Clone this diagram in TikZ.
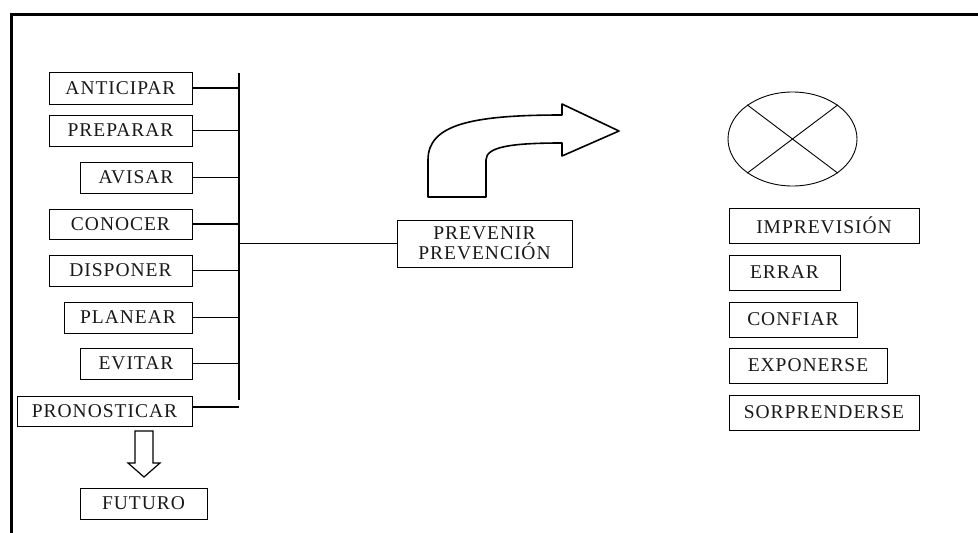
\documentclass[tikz,border=0pt]{standalone}
\usepackage{fontspec}
\setmainfont{Liberation Serif}[LetterSpace=5]
\usetikzlibrary{shapes.geometric}
\begin{document}
\begin{tikzpicture}[x=1pt,y=-1pt,
  box/.style={draw, line width=0.8pt, inner sep=0pt, font=\fontsize{19.5}{16}\selectfont, text=black!90},
  conn/.style={line width=1.1pt},
  busline/.style={line width=1.8pt},
  frame/.style={line width=3.5pt, line join=miter},
  blockarrow/.style={line width=1.6pt, line join=round},
  downarrow/.style={line width=1.2pt, line join=miter}]
\useasboundingbox (0,0) rectangle (978,533);
% frame
\draw[frame] (11.3,533) -- (11.3,14.3) -- (978,14.3);
% left boxes
\node[box, minimum width=143pt, minimum height=32pt] (ant) at (120.5,88) {ANTICIPAR};
\node[box, minimum width=143pt, minimum height=31pt] (pre) at (120.5,130.5) {PREPARAR};
\node[box, minimum width=112pt, minimum height=31pt] (avi) at (136,177.5) {AVISAR};
\node[box, minimum width=143pt, minimum height=30pt] (con) at (120.5,224) {CONOCER};
\node[box, minimum width=143pt, minimum height=31pt] (dis) at (120.5,270.5) {DISPONER};
\node[box, minimum width=128pt, minimum height=31pt] (pla) at (128,317.5) {PLANEAR};
\node[box, minimum width=112pt, minimum height=31pt] (evi) at (136,363.5) {EVITAR};
\node[box, minimum width=175pt, minimum height=30pt] (pro) at (104.5,411) {PRONOSTICAR};
\node[box, minimum width=127pt, minimum height=31pt] (fut) at (143.5,503.5) {FUTURO};
% bus
\coordinate (bt) at (239,73);
\coordinate (bb) at (239,400);
\draw[busline] (bt) -- (bb);
\foreach \n in {ant,pre,avi,con,dis,pla,evi}
  \draw[conn] (\n.east) -- (\n.east -| bt);
\draw[conn] ([yshift=4pt]pro.east) -- ([yshift=4pt]pro.east -| bt);
% center box
\node[box, minimum width=175pt, minimum height=47pt, align=center] (prev) at (484.5,243.5) {PREVENIR\\[2pt]PREVENCIÓN};
\draw[conn] (prev.west -| bt) -- (prev.west);
% curved block arrow
\draw[blockarrow] (428,197) -- (428,160) .. controls (428,125) and (470,115) .. (562,115)
  -- (562,104) -- (619,131) -- (562,156) -- (562,143)
  .. controls (510,143) and (486,147) .. (486,160) -- (486,197) -- cycle;
% down arrow
\draw[downarrow] (135,431) -- (153,431) -- (153,463) -- (160,463) -- (144,477) -- (128,463) -- (135,463) -- cycle;
% ellipse with cross
\node[ellipse, draw, line width=0.9pt, minimum width=129pt, minimum height=94pt, inner sep=0pt] (circ) at (792.5,139) {};
\draw[line width=0.9pt] (circ.143) -- (circ.-37);
\draw[line width=0.9pt] (circ.217) -- (circ.37);
% right boxes
\node[box, minimum width=190pt, minimum height=35pt] (imp) at (824,225.5) {IMPREVISIÓN};
\node[box, minimum width=111pt, minimum height=35pt] (err) at (784.5,272.5) {ERRAR};
\node[box, minimum width=128pt, minimum height=35pt] (cnf) at (793,319.5) {CONFIAR};
\node[box, minimum width=158pt, minimum height=35pt] (exp) at (808,365.5) {EXPONERSE};
\node[box, minimum width=190pt, minimum height=35pt] (sor) at (824,412.5) {SORPRENDERSE};
\end{tikzpicture}
\end{document}
